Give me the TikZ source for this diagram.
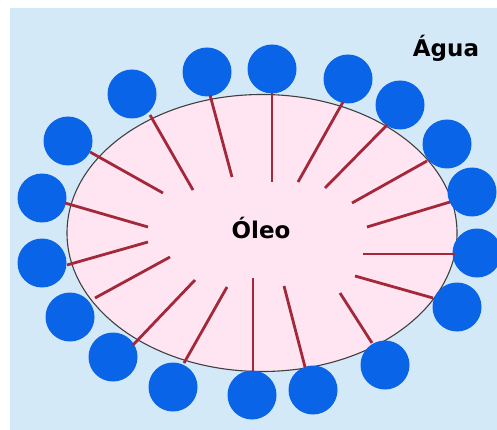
\documentclass[tikz,border=0pt]{standalone}
\usepackage{fontspec}
\setmainfont{DejaVu Sans}
\usepackage{tikz}
\usetikzlibrary{shapes.geometric}
\definecolor{waterbg}{HTML}{D4E9F8}
\definecolor{oilpink}{HTML}{FFE4F2}
\definecolor{headblue}{HTML}{0A64E8}
\definecolor{tailred}{HTML}{A2283A}
\tikzset{
  head/.style={circle,fill=headblue,minimum size=49pt,inner sep=0pt},
  tail/.style={draw=tailred,line width=2.8pt},
  drop/.style={ellipse,draw=black!75,fill=oilpink,line width=1.1pt,
    minimum width=390pt,minimum height=277pt,inner sep=0pt},
  lbl/.style={font=\bfseries\fontsize{23}{23}\selectfont,text=black,inner sep=0pt},
}

\begin{document}
\begin{tikzpicture}[x=1pt,y=-1pt]
  \useasboundingbox (0,0) rectangle (497,430);
  \fill[waterbg] (10,8) rectangle (497,430) coordinate (corner);
  % oil droplet
  \node[drop] (oil) at (262,233) {};
  \node[lbl,anchor=base] (oleo) at (261,238) {Óleo};
  \node[lbl,anchor=base] (agua) at (446,57) {Água};
  % polar heads in the water
  \foreach \n/\hx/\hy in {1/132/94, 2/207/72, 3/272/69, 4/348/79, 5/400/105,
      6/447/144, 7/472/192, 8/477/253, 9/457/307, 10/385/365, 11/313/390,
      12/252/395, 13/173/387, 14/113/357, 15/70/317, 16/42/263, 17/42/198,
      18/68/141}
    \node[head] (h\n) at (\hx,\hy) {};
  % tails in the oil
  \foreach \n/\ox/\oy/\ix/\iy in {1/150/115/193/190, 2/210/95/232/177,
      3/272/93/272/182, 4/343/102/298/182, 5/387/125/325/188,
      6/427/161/352/203, 7/450/202/367/227, 8/455/254/363/254,
      9/433/298/355/276, 10/372/343/340/293, 11/305/367/284/286,
      12/253/372/253/278, 13/184/363/227/287, 14/133/345/195/280,
      15/95/298/170/257, 16/67/265/148/242, 17/65/203/148/227,
      18/90/152/163/193}{
    \coordinate (o\n) at (\ox,\oy);
    \coordinate (i\n) at (\ix,\iy);
    \draw[tail] (o\n) -- (i\n);
  }
\end{tikzpicture}
\end{document}
